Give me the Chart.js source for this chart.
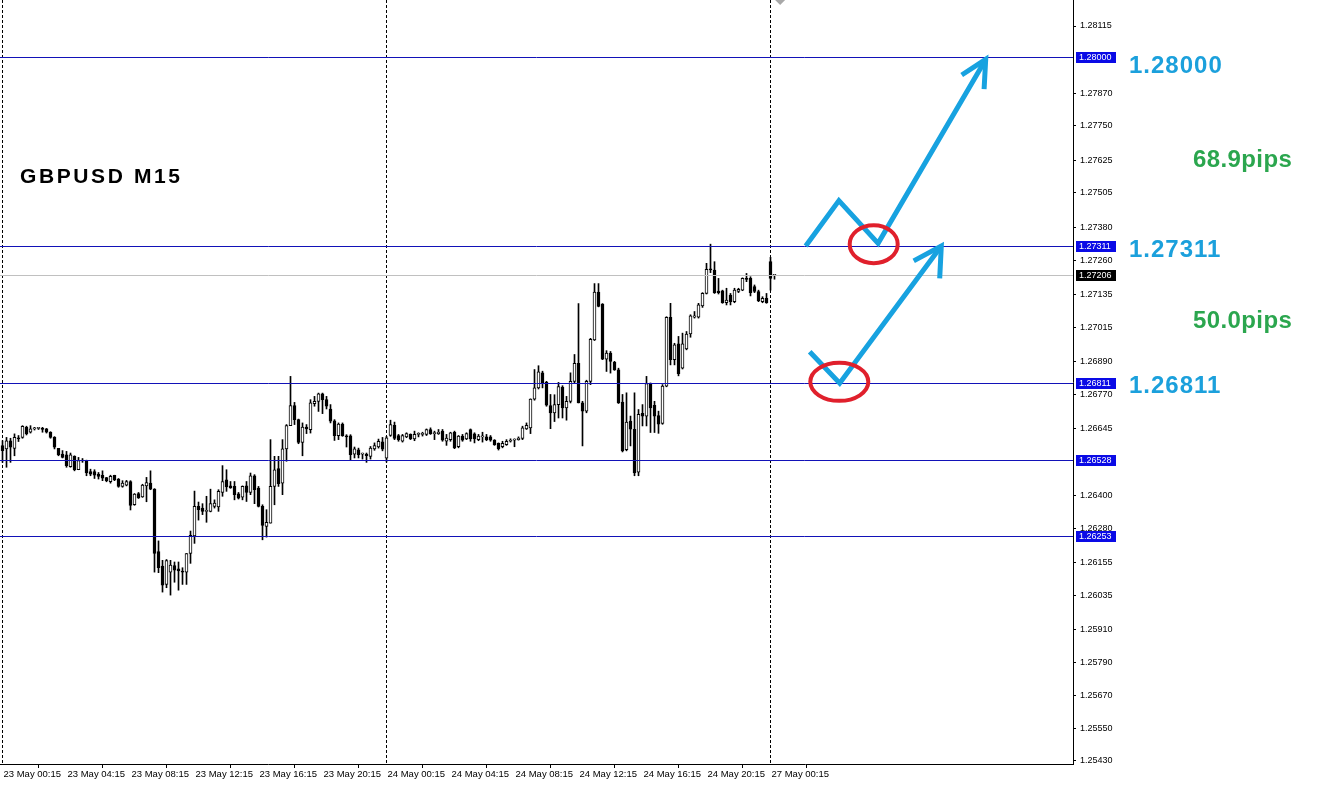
<!DOCTYPE html>
<html>
<head>
<meta charset="utf-8">
<title>GBPUSD M15</title>
<script src="https://cdn.jsdelivr.net/npm/chart.js@4.4.0/dist/chart.umd.min.js"></script>
<style>
html, body { margin: 0; padding: 0; background: #fff; }
#contenedor { width: 1321px; height: 785px; }
</style>
</head>
<body>
<div id="contenedor"><canvas id="graficoVelas"></canvas></div>
<script>
// Velas M15 (23 May 00:00 ... 27 May 00:15), una entrada por vela
const aperturas = [
  1.26582, 1.26570, 1.26600, 1.26572, 1.26609, 1.26612, 1.26649, 1.26631, 1.26643, 1.26645,
  1.26645, 1.26643, 1.26631, 1.26612, 1.26572, 1.26551, 1.26548, 1.26505, 1.26543, 1.26494,
  1.26527, 1.26527, 1.26487, 1.26487, 1.26478, 1.26474, 1.26465, 1.26450, 1.26474, 1.26460,
  1.26433, 1.26438, 1.26451, 1.26366, 1.26407, 1.26395, 1.26435, 1.26445, 1.26423, 1.26195,
  1.26142, 1.26075, 1.26120, 1.26144, 1.26132, 1.26124, 1.26120, 1.26188, 1.26252, 1.26360,
  1.26354, 1.26342, 1.26342, 1.26360, 1.26358, 1.26411, 1.26457, 1.26435, 1.26433, 1.26406,
  1.26394, 1.26435, 1.26411, 1.26472, 1.26427, 1.26360, 1.26287, 1.26299, 1.26433, 1.26498,
  1.26445, 1.26570, 1.26655, 1.26728, 1.26677, 1.26594, 1.26650, 1.26640, 1.26735, 1.26744,
  1.26771, 1.26750, 1.26716, 1.26673, 1.26618, 1.26661, 1.26618, 1.26618, 1.26551, 1.26567,
  1.26551, 1.26551, 1.26543, 1.26570, 1.26577, 1.26596, 1.26536, 1.26619, 1.26656, 1.26619,
  1.26598, 1.26614, 1.26623, 1.26607, 1.26623, 1.26623, 1.26623, 1.26641, 1.26626, 1.26626,
  1.26635, 1.26598, 1.26604, 1.26631, 1.26578, 1.26617, 1.26607, 1.26641, 1.26625, 1.26604,
  1.26614, 1.26614, 1.26614, 1.26602, 1.26590, 1.26578, 1.26586, 1.26598, 1.26602, 1.26604,
  1.26608, 1.26643, 1.26647, 1.26752, 1.26793, 1.26848, 1.26813, 1.26728, 1.26702, 1.26732,
  1.26796, 1.26720, 1.26744, 1.26817, 1.26883, 1.26738, 1.26708, 1.26817, 1.26968, 1.27143,
  1.27099, 1.26898, 1.26920, 1.26886, 1.26859, 1.26741, 1.26567, 1.26672, 1.26642, 1.26485,
  1.26700, 1.26690, 1.26809, 1.26729, 1.26692, 1.26663, 1.26799, 1.27051, 1.26896, 1.26954,
  1.26865, 1.26935, 1.26990, 1.27051, 1.27051, 1.27092, 1.27138, 1.27226, 1.27223, 1.27147,
  1.27148, 1.27104, 1.27132, 1.27108, 1.27145, 1.27150, 1.27193, 1.27193, 1.27163, 1.27145,
  1.27108, 1.27120, 1.27254, 1.27204
];
const maximos = [
  1.26600, 1.26612, 1.26609, 1.26625, 1.26619, 1.26655, 1.26653, 1.26655, 1.26649, 1.26649,
  1.26649, 1.26645, 1.26633, 1.26615, 1.26572, 1.26564, 1.26561, 1.26555, 1.26545, 1.26539,
  1.26535, 1.26529, 1.26496, 1.26494, 1.26484, 1.26490, 1.26466, 1.26474, 1.26474, 1.26462,
  1.26454, 1.26455, 1.26454, 1.26407, 1.26411, 1.26441, 1.26466, 1.26490, 1.26425, 1.26234,
  1.26163, 1.26166, 1.26163, 1.26157, 1.26157, 1.26136, 1.26188, 1.26270, 1.26416, 1.26376,
  1.26370, 1.26397, 1.26423, 1.26384, 1.26421, 1.26509, 1.26494, 1.26451, 1.26451, 1.26411,
  1.26435, 1.26451, 1.26482, 1.26476, 1.26433, 1.26366, 1.26348, 1.26604, 1.26543, 1.26543,
  1.26604, 1.26659, 1.26835, 1.26740, 1.26679, 1.26665, 1.26659, 1.26750, 1.26762, 1.26774,
  1.26774, 1.26762, 1.26732, 1.26677, 1.26665, 1.26665, 1.26622, 1.26622, 1.26577, 1.26573,
  1.26555, 1.26555, 1.26579, 1.26592, 1.26606, 1.26612, 1.26616, 1.26675, 1.26668, 1.26623,
  1.26623, 1.26629, 1.26625, 1.26635, 1.26629, 1.26631, 1.26643, 1.26647, 1.26635, 1.26641,
  1.26641, 1.26623, 1.26631, 1.26635, 1.26619, 1.26623, 1.26629, 1.26643, 1.26629, 1.26623,
  1.26631, 1.26623, 1.26619, 1.26604, 1.26592, 1.26598, 1.26604, 1.26607, 1.26607, 1.26614,
  1.26653, 1.26665, 1.26753, 1.26860, 1.26874, 1.26854, 1.26817, 1.26769, 1.26768, 1.26813,
  1.26801, 1.26762, 1.26848, 1.26915, 1.27101, 1.26744, 1.26821, 1.26974, 1.27174, 1.27174,
  1.27101, 1.26929, 1.26926, 1.26890, 1.26865, 1.26769, 1.26775, 1.26690, 1.26775, 1.26714,
  1.26732, 1.26835, 1.26811, 1.26744, 1.26708, 1.26805, 1.27053, 1.27102, 1.26956, 1.26981,
  1.26993, 1.26999, 1.27060, 1.27072, 1.27102, 1.27141, 1.27248, 1.27318, 1.27254, 1.27193,
  1.27150, 1.27157, 1.27138, 1.27157, 1.27157, 1.27195, 1.27211, 1.27199, 1.27169, 1.27150,
  1.27126, 1.27138, 1.27270, 1.27206
];
const minimos = [
  1.26521, 1.26503, 1.26521, 1.26545, 1.26597, 1.26609, 1.26621, 1.26628, 1.26639, 1.26641,
  1.26631, 1.26628, 1.26609, 1.26570, 1.26545, 1.26537, 1.26503, 1.26503, 1.26490, 1.26494,
  1.26521, 1.26472, 1.26472, 1.26462, 1.26460, 1.26454, 1.26450, 1.26445, 1.26454, 1.26430,
  1.26430, 1.26435, 1.26347, 1.26364, 1.26389, 1.26393, 1.26377, 1.26421, 1.26120, 1.26118,
  1.26047, 1.26063, 1.26036, 1.26083, 1.26054, 1.26075, 1.26075, 1.26152, 1.26225, 1.26310,
  1.26330, 1.26302, 1.26340, 1.26354, 1.26342, 1.26397, 1.26415, 1.26426, 1.26384, 1.26387,
  1.26384, 1.26378, 1.26403, 1.26370, 1.26358, 1.26238, 1.26248, 1.26299, 1.26366, 1.26433,
  1.26403, 1.26525, 1.26655, 1.26659, 1.26589, 1.26545, 1.26626, 1.26628, 1.26726, 1.26707,
  1.26699, 1.26716, 1.26665, 1.26601, 1.26604, 1.26616, 1.26577, 1.26528, 1.26537, 1.26537,
  1.26533, 1.26521, 1.26533, 1.26565, 1.26573, 1.26563, 1.26522, 1.26616, 1.26604, 1.26598,
  1.26595, 1.26611, 1.26604, 1.26600, 1.26614, 1.26617, 1.26619, 1.26623, 1.26604, 1.26623,
  1.26598, 1.26583, 1.26598, 1.26571, 1.26574, 1.26598, 1.26604, 1.26598, 1.26592, 1.26600,
  1.26595, 1.26600, 1.26598, 1.26583, 1.26566, 1.26574, 1.26583, 1.26595, 1.26578, 1.26602,
  1.26604, 1.26641, 1.26626, 1.26748, 1.26789, 1.26793, 1.26726, 1.26644, 1.26670, 1.26683,
  1.26683, 1.26675, 1.26738, 1.26811, 1.26738, 1.26581, 1.26702, 1.26805, 1.26966, 1.27089,
  1.26896, 1.26853, 1.26847, 1.26857, 1.26736, 1.26559, 1.26563, 1.26581, 1.26472, 1.26472,
  1.26654, 1.26654, 1.26630, 1.26630, 1.26627, 1.26660, 1.26797, 1.26877, 1.26877, 1.26837,
  1.26862, 1.26932, 1.26978, 1.27048, 1.27048, 1.27087, 1.27136, 1.27214, 1.27138, 1.27136,
  1.27102, 1.27096, 1.27096, 1.27104, 1.27141, 1.27148, 1.27181, 1.27129, 1.27141, 1.27108,
  1.27104, 1.27102, 1.27150, 1.27190
];
const cierres = [
  1.26564, 1.26600, 1.26576, 1.26612, 1.26607, 1.26653, 1.26625, 1.26643, 1.26645, 1.26645,
  1.26641, 1.26631, 1.26612, 1.26576, 1.26548, 1.26539, 1.26509, 1.26548, 1.26494, 1.26527,
  1.26526, 1.26482, 1.26478, 1.26474, 1.26470, 1.26463, 1.26454, 1.26470, 1.26457, 1.26433,
  1.26445, 1.26451, 1.26364, 1.26405, 1.26391, 1.26438, 1.26447, 1.26423, 1.26188, 1.26136,
  1.26072, 1.26162, 1.26146, 1.26127, 1.26124, 1.26120, 1.26188, 1.26254, 1.26360, 1.26348,
  1.26342, 1.26345, 1.26370, 1.26372, 1.26415, 1.26451, 1.26431, 1.26428, 1.26403, 1.26390,
  1.26433, 1.26411, 1.26472, 1.26421, 1.26360, 1.26291, 1.26302, 1.26433, 1.26494, 1.26443,
  1.26570, 1.26655, 1.26728, 1.26677, 1.26594, 1.26650, 1.26643, 1.26738, 1.26744, 1.26771,
  1.26750, 1.26726, 1.26671, 1.26618, 1.26661, 1.26618, 1.26614, 1.26549, 1.26570, 1.26549,
  1.26553, 1.26545, 1.26573, 1.26582, 1.26598, 1.26569, 1.26611, 1.26659, 1.26608, 1.26604,
  1.26619, 1.26626, 1.26607, 1.26623, 1.26623, 1.26625, 1.26641, 1.26626, 1.26626, 1.26631,
  1.26602, 1.26610, 1.26629, 1.26574, 1.26617, 1.26602, 1.26626, 1.26607, 1.26607, 1.26617,
  1.26614, 1.26604, 1.26602, 1.26586, 1.26571, 1.26590, 1.26598, 1.26602, 1.26602, 1.26610,
  1.26647, 1.26656, 1.26752, 1.26793, 1.26852, 1.26811, 1.26730, 1.26702, 1.26732, 1.26798,
  1.26720, 1.26744, 1.26817, 1.26883, 1.26738, 1.26708, 1.26817, 1.26970, 1.27143, 1.27091,
  1.26898, 1.26920, 1.26890, 1.26859, 1.26738, 1.26563, 1.26668, 1.26642, 1.26482, 1.26696,
  1.26690, 1.26809, 1.26720, 1.26690, 1.26660, 1.26800, 1.27051, 1.26896, 1.26950, 1.26845,
  1.26954, 1.26990, 1.27056, 1.27056, 1.27096, 1.27138, 1.27226, 1.27224, 1.27141, 1.27141,
  1.27104, 1.27114, 1.27108, 1.27150, 1.27153, 1.27193, 1.27189, 1.27141, 1.27145, 1.27112,
  1.27120, 1.27104, 1.27193, 1.27206
];

// Eje de tiempo: vela donde va cada etiqueta
const velasEtiqueta = [1, 17, 33, 49, 65, 81, 97, 113, 129, 145, 161, 177, 193];
const etiquetasTiempo = [
  '23 May 00:15', '23 May 04:15', '23 May 08:15', '23 May 12:15', '23 May 16:15',
  '23 May 20:15', '24 May 00:15', '24 May 04:15', '24 May 08:15', '24 May 12:15',
  '24 May 16:15', '24 May 20:15', '27 May 00:15'
];

// Eje de precios
const ticksPrecio = [
  1.28115, 1.27870, 1.27750, 1.27625, 1.27505, 1.27380, 1.27260, 1.27135, 1.27015,
  1.26890, 1.26770, 1.26645, 1.26400, 1.26280, 1.26155, 1.26035, 1.25910, 1.25790,
  1.25670, 1.25550, 1.25430
];
const precioMin = 1.25419;
const precioMax = 1.28210;

// Líneas horizontales y precio actual
const niveles = [1.28000, 1.27311, 1.26811, 1.26528, 1.26253];
const precioBid = 1.27206;

// Separadores de día (índice de vela)
const separadoresDia = [0, 96, 192];

// Dibujo a mano: flechas y círculos (vela, precio)
const flechaSuperior = [[200.8, 1.27311], [209.1, 1.27477], [218.9, 1.27321], [245.8, 1.27993]];
const puntaSuperior = [[239.8, 1.27936], [245.8, 1.27993], [245.4, 1.27884]];
const flechaInferior = [[201.8, 1.26925], [209.3, 1.26810], [234.7, 1.27311]];
const puntaInferior = [[227.8, 1.27257], [234.7, 1.27311], [234.3, 1.27193]];
const circulos = [[217.8, 1.27318], [209.2, 1.26815]];

// Textos a la derecha (texto, precio de la línea base)
const textosNivel = [['1.28000', 1.27945], ['1.27311', 1.27270], ['1.26811', 1.26773]];
const textosPips = [['68.9pips', 1.27599], ['50.0pips', 1.27011]];
const titulo = 'GBPUSD M15';

const fuente = '"Liberation Sans", Arial, sans-serif';

// Datos para las barras flotantes
const mechas = maximos.map((h, i) => ({ x: i, y: [minimos[i], h] }));
const cuerpos = aperturas.map((o, i) => ({ x: i, y: [o, cierres[i]] }));
const coloresCuerpo = aperturas.map((o, i) => cierres[i] >= o ? '#ffffff' : '#000000');

function px(chart, p) {
    return [chart.scales.x.getPixelForValue(p[0]), chart.scales.y.getPixelForValue(p[1])];
}

function trazo(ctx, chart, puntos) {
    ctx.beginPath();
    puntos.forEach((p, i) => {
        const [x, y] = px(chart, p);
        if (i === 0) ctx.moveTo(x, y); else ctx.lineTo(x, y);
    });
    ctx.stroke();
}

const pluginDibujos = {
    id: 'dibujos',
    beforeDatasetsDraw(chart) {
        const ctx = chart.ctx;
        const area = chart.chartArea;
        ctx.save();
        // separadores de día
        ctx.strokeStyle = '#000';
        ctx.lineWidth = 1;
        ctx.setLineDash([3, 2]);
        separadoresDia.forEach(v => {
            const x = Math.floor(chart.scales.x.getPixelForValue(v)) + 0.5;
            ctx.beginPath();
            ctx.moveTo(x, area.top);
            ctx.lineTo(x, area.bottom);
            ctx.stroke();
        });
        ctx.restore();
    },
    afterDatasetsDraw(chart) {
        const ctx = chart.ctx;
        const area = chart.chartArea;
        const y = chart.scales.y;
        ctx.save();
        ctx.lineWidth = 1;
        // línea bid
        ctx.strokeStyle = '#c0c0c0';
        let yb = Math.round(y.getPixelForValue(precioBid)) + 0.5;
        ctx.beginPath(); ctx.moveTo(area.left, yb); ctx.lineTo(area.right, yb); ctx.stroke();
        // niveles
        ctx.strokeStyle = '#1212b8';
        niveles.forEach(n => {
            const yy = Math.round(y.getPixelForValue(n)) + 0.5;
            ctx.beginPath(); ctx.moveTo(area.left, yy); ctx.lineTo(area.right, yy); ctx.stroke();
        });
        ctx.restore();
    },
    afterDraw(chart) {
        const ctx = chart.ctx;
        const area = chart.chartArea;
        const y = chart.scales.y;
        ctx.save();

        // etiquetas de precio en el eje
        ctx.font = '9px ' + fuente;
        ctx.textBaseline = 'middle';
        const etiquetaEje = (precio, fondo) => {
            const yy = Math.round(y.getPixelForValue(precio));
            ctx.fillStyle = fondo;
            ctx.fillRect(area.right + 3, yy - 5, 40, 11);
            ctx.fillStyle = '#fff';
            ctx.fillText(precio.toFixed(5), area.right + 6, yy + 0.5);
        };
        niveles.forEach(n => etiquetaEje(n, '#0a0ae6'));
        etiquetaEje(precioBid, '#000');

        // marcador gris arriba
        const xm = chart.scales.x.getPixelForValue(194.4);
        ctx.fillStyle = '#a8a8a8';
        ctx.beginPath();
        ctx.moveTo(xm - 5, area.top); ctx.lineTo(xm + 5, area.top); ctx.lineTo(xm, area.top + 5);
        ctx.closePath(); ctx.fill();

        // título
        ctx.fillStyle = '#000';
        ctx.font = 'bold 21px ' + fuente;
        ctx.textBaseline = 'alphabetic';
        ctx.letterSpacing = '2.6px';
        ctx.fillText(titulo, area.left + 20, area.top + 183);

        // textos de nivel y pips
        ctx.font = 'bold 24px ' + fuente;
        ctx.letterSpacing = '1px';
        ctx.fillStyle = '#1ba0dc';
        textosNivel.forEach(t => ctx.fillText(t[0], area.right + 56, y.getPixelForValue(t[1])));
        ctx.fillStyle = '#2ba64e';
        ctx.letterSpacing = '0.4px';
        textosPips.forEach(t => ctx.fillText(t[0], area.right + 120, y.getPixelForValue(t[1])));
        ctx.letterSpacing = '0px';

        // flechas
        ctx.strokeStyle = '#17a2e0';
        ctx.lineWidth = 5;
        ctx.lineJoin = 'miter';
        ctx.lineCap = 'butt';
        trazo(ctx, chart, flechaSuperior);
        trazo(ctx, chart, puntaSuperior);
        trazo(ctx, chart, flechaInferior);
        trazo(ctx, chart, puntaInferior);

        // círculos rojos
        ctx.strokeStyle = '#e0202c';
        ctx.lineWidth = 4;
        const radios = [[24, 19], [29, 19]];
        circulos.forEach((c, i) => {
            const [cx, cy] = px(chart, c);
            ctx.beginPath();
            ctx.ellipse(cx, cy, radios[i][0], radios[i][1], 0, 0, Math.PI * 2);
            ctx.stroke();
        });
        ctx.restore();
    }
};

new Chart(document.getElementById('graficoVelas'), {
    type: 'bar',
    data: {
        datasets: [{
            label: 'Cuerpo',
            data: cuerpos,
            backgroundColor: coloresCuerpo,
            borderColor: '#000',
            borderWidth: 1,
            borderSkipped: false,
            barThickness: 3,
            minBarLength: 1,
            grouped: false,
            order: 0
        }, {
            label: 'Mecha',
            data: mechas,
            backgroundColor: '#000',
            borderWidth: 0,
            barThickness: 1,
            grouped: false,
            order: 1
        }]
    },
    options: {
        responsive: true,
        maintainAspectRatio: false,
        animation: false,
        events: [],
        layout: { padding: 0 },
        plugins: { legend: { display: false }, tooltip: { enabled: false } },
        scales: {
            x: {
                type: 'linear',
                min: -0.625,
                max: 267.625,
                offset: false,
                afterBuildTicks: s => { s.ticks = velasEtiqueta.map(v => ({ value: v })); },
                afterFit: s => { s.height = 21; s.paddingLeft = 0; s.paddingRight = 0; },
                ticks: {
                    autoSkip: false,
                    maxRotation: 0,
                    align: 'start',
                    labelOffset: -3,
                    padding: 1,
                    color: '#000',
                    font: { family: fuente, size: 9.5 },
                    callback: v => etiquetasTiempo[velasEtiqueta.indexOf(v)]
                },
                grid: { drawOnChartArea: false, tickLength: 4, color: '#000' },
                border: { color: '#000' }
            },
            y: {
                type: 'linear',
                position: 'right',
                min: precioMin,
                max: precioMax,
                afterBuildTicks: s => { s.ticks = ticksPrecio.map(v => ({ value: v })); },
                afterFit: s => { s.width = 248; s.paddingTop = 0; s.paddingBottom = 0; },
                ticks: {
                    autoSkip: false,
                    padding: 4,
                    color: '#000',
                    font: { family: fuente, size: 9 },
                    callback: v => v.toFixed(5)
                },
                grid: { drawOnChartArea: false, tickLength: 3, color: '#000' },
                border: { color: '#000' }
            }
        }
    },
    plugins: [pluginDibujos]
});
</script>
</body>
</html>
